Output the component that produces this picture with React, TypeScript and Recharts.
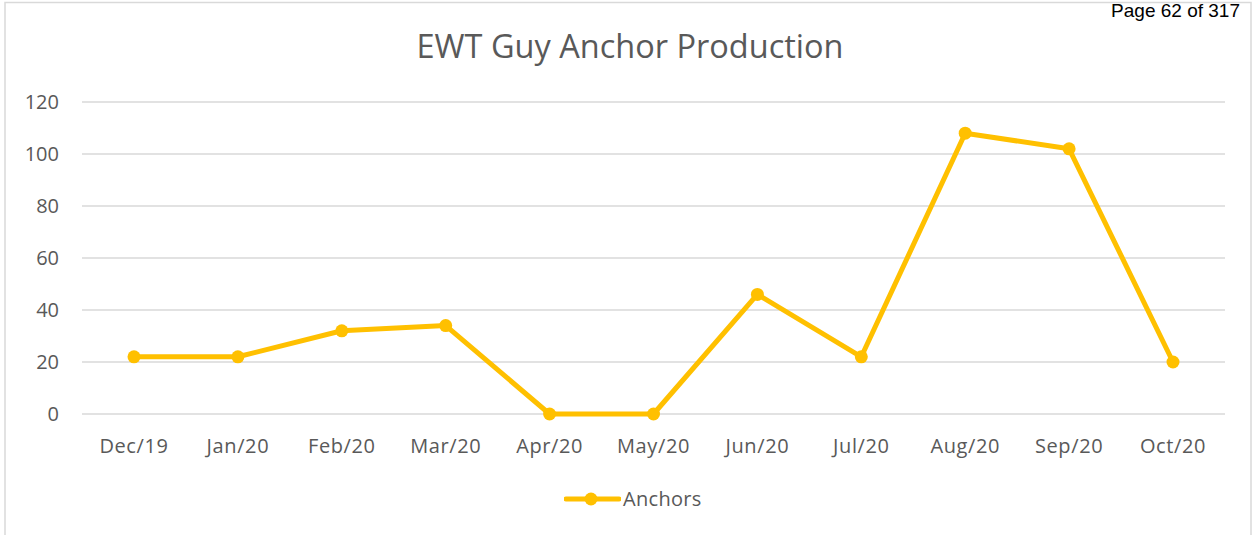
import React from "react";
import { LineChart, Line, XAxis, YAxis, CartesianGrid, Legend } from "recharts";

const months = ["Dec/19", "Jan/20", "Feb/20", "Mar/20", "Apr/20", "May/20", "Jun/20", "Jul/20", "Aug/20", "Sep/20", "Oct/20"];
const anchors = [22, 22, 32, 34, 0, 0, 46, 22, 108, 102, 20];
const yTicks = [0, 20, 40, 60, 80, 100, 120];

const data = months.map((m, i) => ({ month: m, Anchors: anchors[i] }));

const GOLD = "#FFC000";
const TEXT = "#595959";
const FONT = "'Open Sans', sans-serif";

const LegendContent = () => (
  <div style={{ height: 30, display: "flex", alignItems: "center", marginLeft: 564, fontFamily: FONT }}>
    <svg width={57} height={30} style={{ display: "block" }}>
      <line x1={2} y1={14} x2={55} y2={14} stroke={GOLD} strokeWidth={5} strokeLinecap="round" />
      <circle cx={27} cy={14} r={6.5} fill={GOLD} />
    </svg>
    <span style={{ fontSize: 20, color: TEXT, marginLeft: 2, marginTop: -4, letterSpacing: 0.3 }}>Anchors</span>
  </div>
);

export default function App() {
  return (
    <div style={{ position: "absolute", left: 0, top: 0, width: 1254, height: 535, overflow: "hidden", background: "#fff" }}>
      <svg width={1254} height={535} style={{ position: "absolute", left: 0, top: 0 }}>
        <rect x={5} y={2.5} width={1246} height={600} fill="none" stroke="#d9d9d9" strokeWidth={1.5} />
      </svg>
      <div style={{ position: "absolute", left: 0, top: 0 }}>
        <LineChart width={1254} height={535} data={data} margin={{ top: 102, right: 29, left: 0, bottom: 20 }}>
          <CartesianGrid vertical={false} stroke="#d9d9d9" strokeWidth={1.5} />
          <XAxis
            dataKey="month"
            axisLine={false}
            tickLine={false}
            tickSize={0}
            tickMargin={25}
            height={71}
            padding={{ left: 52, right: 52 }}
            tick={{ fill: TEXT, fontSize: 20, fontFamily: FONT, letterSpacing: 0.6 }}
            interval={0}
          />
          <YAxis
            domain={[0, 120]}
            ticks={yTicks}
            axisLine={false}
            tickLine={false}
            tickSize={0}
            tickMargin={23}
            width={82}
            tick={{ fill: TEXT, fontSize: 20, fontFamily: FONT }}
          />
          <Legend verticalAlign="bottom" height={30} content={<LegendContent />} />
          <Line
            type="linear"
            dataKey="Anchors"
            stroke={GOLD}
            strokeWidth={5}
            strokeLinejoin="round"
            dot={{ r: 6.5, fill: GOLD, stroke: GOLD, strokeWidth: 0 }}
            activeDot={false}
            isAnimationActive={false}
          />
        </LineChart>
      </div>
      <svg width={1254} height={535} style={{ position: "absolute", left: 0, top: 0, pointerEvents: "none" }}>
        <text x={630} y={58} textAnchor="middle" fontFamily={FONT} fontSize={32.5} fill={TEXT}>
          EWT Guy Anchor Production
        </text>
        <text x={1240} y={17} textAnchor="end" fontFamily="'Liberation Sans', Arial, sans-serif" fontSize={19} fill="#000">
          Page 62 of 317
        </text>
      </svg>
    </div>
  );
}
